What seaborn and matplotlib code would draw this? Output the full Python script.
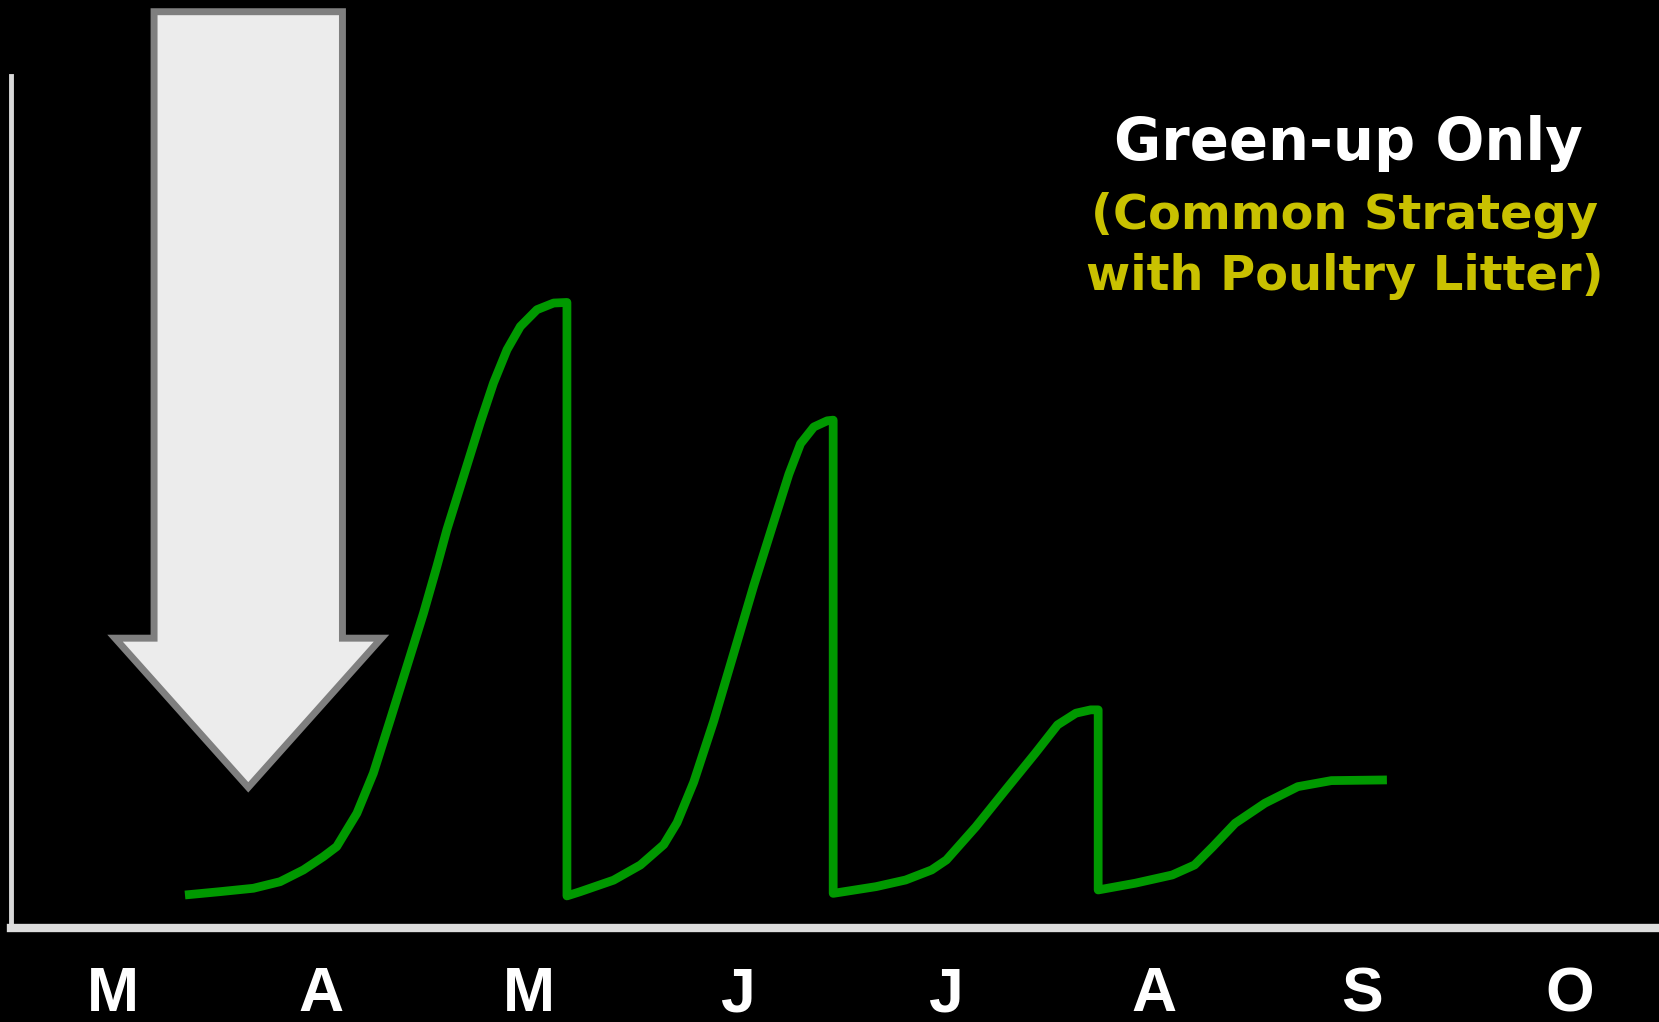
import numpy as np
import pandas as pd
import seaborn as sns
import matplotlib.pyplot as plt

# Months shown on the x axis (March .. October)
months = ['M', 'A', 'M', 'J', 'J', 'A', 'S', 'O']

# Forage growth curve, x = months after 1 March, y = relative growth (0-100)
# four growth flushes, each cut back to near zero at harvest
growth_x = [0.346, 0.514, 0.675, 0.803, 0.915, 1.011, 1.075, 1.172, 1.251, 1.332, 1.412,
            1.492, 1.556, 1.604, 1.684, 1.764, 1.828, 1.893, 1.957, 2.037, 2.117, 2.181,
            2.181, 2.245, 2.405, 2.534, 2.646, 2.710, 2.790, 2.886, 2.982, 3.078, 3.175,
            3.247, 3.303, 3.367, 3.431, 3.460,
            3.460, 3.666, 3.808, 3.933, 4.004, 4.146, 4.288, 4.431, 4.538, 4.626, 4.697, 4.733,
            4.733, 4.911, 5.089, 5.196, 5.284, 5.391, 5.534, 5.692, 5.853, 6.120]
growth_y = [3.87, 4.26, 4.66, 5.43, 6.81, 8.37, 9.55, 13.46, 18.16, 24.41, 30.67,
            36.94, 42.41, 46.71, 52.97, 59.24, 63.93, 67.84, 70.57, 72.54, 73.32, 73.39,
            3.76, 4.26, 5.61, 7.39, 9.78, 12.36, 17.11, 24.26, 32.19, 40.14, 47.68,
            53.23, 56.81, 58.78, 59.50, 59.58,
            4.06, 4.85, 5.63, 6.81, 7.98, 11.89, 16.20, 20.50, 23.83, 25.20, 25.59, 25.59,
            4.46, 5.25, 6.22, 7.39, 9.54, 12.29, 14.64, 16.58, 17.29, 17.37]

# Litter application timing (arrow)
apply_x = 0.65
arrow_top = 107.5
arrow_tip = 16.5

title = 'Green-up Only'
subtitle = '(Common Strategy\nwith Poultry Litter)'

df = pd.DataFrame({'month': growth_x, 'growth': growth_y})

sns.set_style('dark', {'axes.facecolor': 'black', 'figure.facecolor': 'black'})
plt.rcParams['font.family'] = ['DejaVu Sans']

fig = plt.figure(figsize=(16.59, 10.22), dpi=100)
fig.patch.set_facecolor('black')
ax = fig.add_axes([0.0066, 0.092, 0.9925, 0.834])
ax.set_facecolor('black')

sns.lineplot(data=df, x='month', y='growth', sort=False, estimator=None,
             color='#009900', linewidth=6.3, ax=ax)
for ln in ax.lines:
    ln.set_solid_joinstyle('round')
    ln.set_solid_capstyle('butt')

# application arrow
ax.arrow(apply_x, arrow_top, 0, arrow_tip - arrow_top, width=0.905, head_width=1.28,
         head_length=17.5, length_includes_head=True, facecolor='#ececec',
         edgecolor='#7f7f7f', linewidth=5, joinstyle='miter', clip_on=False, zorder=3)

ax.set_xlim(-0.49, 7.42)
ax.set_ylim(0, 100)
ax.set_xticks(range(len(months)))
ax.set_xticklabels(months, fontsize=45, fontweight='bold', color='white',
                   family=['Liberation Sans', 'DejaVu Sans'])
ax.tick_params(axis='x', length=0, pad=27)
ax.set_yticks([])
ax.set_xlabel('')
ax.set_ylabel('')
ax.grid(False)

for side in ['top', 'right']:
    ax.spines[side].set_visible(False)
ax.spines['left'].set_visible(True)
ax.spines['left'].set_color('#d9d9d9')
ax.spines['left'].set_linewidth(3.5)
ax.spines['bottom'].set_visible(True)
ax.spines['bottom'].set_color('#dddddd')
ax.spines['bottom'].set_linewidth(6)

fig.text(1348 / 1659, 1 - 143 / 1022, title, ha='center', va='center',
         fontsize=41.5, fontweight='bold', color='white')
fig.text(1345 / 1659, 1 - 246 / 1022, subtitle, ha='center', va='center',
         fontsize=34.5, fontweight='bold', color='#c9c100', linespacing=1.38)

fig.savefig('out.png', dpi=100, facecolor='black')
